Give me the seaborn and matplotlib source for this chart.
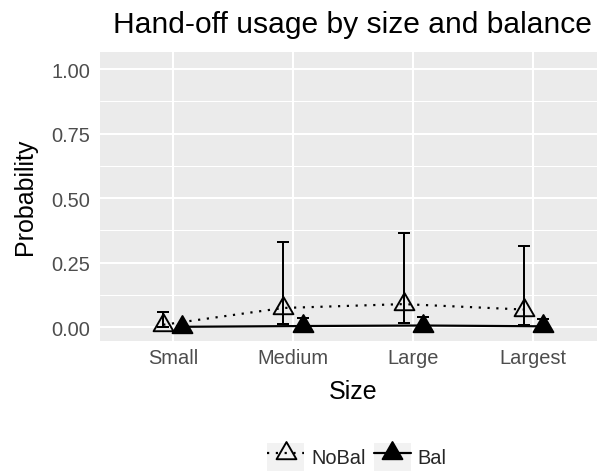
import numpy as np
import pandas as pd
import matplotlib
matplotlib.use("Agg")
import matplotlib.pyplot as plt
import seaborn as sns
from matplotlib.path import Path
from matplotlib.lines import Line2D
from matplotlib.patches import Rectangle
from matplotlib.legend_handler import HandlerLine2D

# ---- data ----
sizes = ["Small", "Medium", "Large", "Largest"]
balance = ["NoBal", "Bal"]
nobal_mean = [0.009, 0.074, 0.089, 0.068]
nobal_lo = [0.002, 0.012, 0.016, 0.008]
nobal_hi = [0.059, 0.330, 0.365, 0.316]
bal_mean = [0.001, 0.004, 0.006, 0.003]
bal_lo = [0.000, 0.000, 0.000, 0.000]
bal_hi = [0.004, 0.035, 0.040, 0.030]
y_ticks = [0.00, 0.25, 0.50, 0.75, 1.00]
y_tick_labels = ["0.00", "0.25", "0.50", "0.75", "1.00"]
title = "Hand-off usage by size and balance"
x_title = "Size"
y_title = "Probability"

dodge = {"NoBal": -0.08, "Bal": 0.08}
rows = []
for b, m, lo, hi in [("NoBal", nobal_mean, nobal_lo, nobal_hi),
                     ("Bal", bal_mean, bal_lo, bal_hi)]:
    for i, s in enumerate(sizes):
        rows.append(dict(size=s, balance=b, x=i + dodge[b], mean=m[i], lo=lo[i], hi=hi[i]))
df = pd.DataFrame(rows)

# ---- style ----
sns.set_style("white")
plt.rcParams["font.family"] = ["Liberation Sans", "DejaVu Sans"]

W, H = 597, 477
fig = plt.figure(figsize=(W / 100, H / 100), dpi=100)
px = lambda v: v * 0.72  # px -> pt

left, right, top, bottom = 100, 597, 53, 342
ax = fig.add_axes([left / W, 1 - bottom / H, (right - left) / W, (bottom - top) / H])
ax.set_facecolor("#EBEBEB")
for sp in ax.spines.values():
    sp.set_visible(False)

# triangle like R pch 2/17 (centroid at the point)
tri = Path([(0, 1.555), (1.347, -0.778), (-1.347, -0.778), (0, 1.555)],
           [Path.MOVETO, Path.LINETO, Path.LINETO, Path.CLOSEPOLY])

lw_line = px(2.2)
sns.lineplot(data=df, x="x", y="mean", hue="balance", style="balance",
             palette={"NoBal": "black", "Bal": "black"},
             dashes={"NoBal": (1, 3), "Bal": ""}, markers=False,
             legend=False, ax=ax, lw=lw_line, zorder=3, sort=True)

ms = 16.5
for b in balance:
    d = df[df.balance == b]
    ax.plot(d["x"], d["mean"], linestyle="none", marker=tri, ms=ms,
            mfc="none" if b == "NoBal" else "black", mec="black",
            mew=px(1.9), zorder=4)
    ax.errorbar(d["x"], d["mean"], yerr=[d["mean"] - d["lo"], d["hi"] - d["mean"]],
                fmt="none", ecolor="black", elinewidth=px(2.0), capsize=px(6),
                capthick=px(2.0), zorder=5)

ax.set_xlim(-0.606, 3.53)
ax.set_ylim(-0.054, 1.066)
ax.set_xticks(range(len(sizes)))
ax.set_xticklabels(sizes)
ax.set_yticks(y_ticks)
ax.set_yticklabels(y_tick_labels)
ax.set_yticks([0.125, 0.375, 0.625, 0.875], minor=True)
ax.grid(True, which="major", color="white", lw=px(2.0))
ax.grid(True, which="minor", axis="y", color="white", lw=px(1.0))
ax.set_axisbelow(True)
ax.tick_params(axis="both", which="major", length=px(5), width=px(1.1),
               color="#333333", labelcolor="#4D4D4D", labelsize=px(20))
ax.tick_params(axis="x", pad=px(2.5))
ax.tick_params(axis="y", pad=px(5))
ax.tick_params(which="minor", length=0)
ax.set_xlabel("")
ax.set_ylabel("")

fig.text(352 / W, 1 - 33 / H, title, ha="center", va="baseline",
         fontsize=px(30), color="black")
fig.text(353 / W, 1 - 399 / H, x_title, ha="center", va="baseline",
         fontsize=px(25), color="black")
fig.text(25 / W, 1 - 197 / H, y_title, ha="center", va="center",
         rotation=90, fontsize=px(25), color="black")


class KeyHandler(HandlerLine2D):
    def create_artists(self, legend, orig_handle, xdescent, ydescent,
                       width, height, fontsize, trans):
        arts = super().create_artists(legend, orig_handle, xdescent, ydescent,
                                      width, height, fontsize, trans)
        bg = Rectangle((-xdescent, -ydescent - height * 0.0), width, height,
                       facecolor="#F2F2F2", edgecolor="none", transform=trans)
        return [bg] + list(arts)


handles = [
    Line2D([], [], color="black", lw=lw_line, linestyle=(0, (1, 3)), marker=tri,
           ms=ms, mfc="none", mec="black", mew=px(1.9)),
    Line2D([], [], color="black", lw=lw_line, linestyle="-", marker=tri,
           ms=ms, mfc="black", mec="black", mew=px(1.9)),
]
fs = px(20)
leg = fig.legend(handles, balance, loc="center", ncol=2,
                 bbox_to_anchor=(357 / W, 1 - 458 / H), frameon=False,
                 fontsize=fs, handlelength=37 / 20, handleheight=37 / 20,
                 handletextpad=7 / 20, columnspacing=8 / 20, borderpad=0,
                 borderaxespad=0, numpoints=1,
                 handler_map={Line2D: KeyHandler()})

fig.savefig("out.png", dpi=100)
